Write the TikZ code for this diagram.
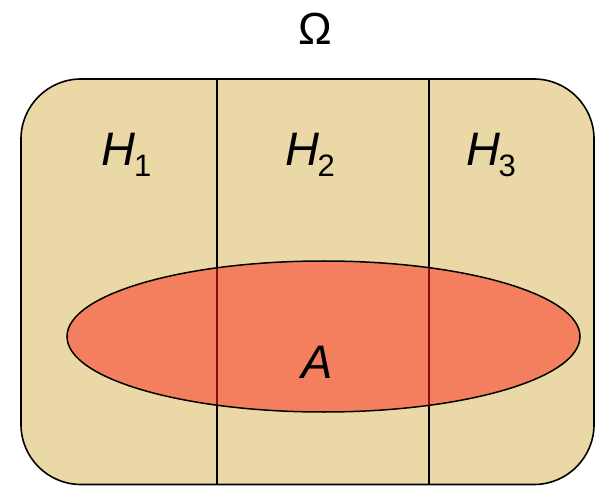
\documentclass[tikz,border=0pt]{standalone}
\usepackage{fontspec}
\setmainfont{Liberation Sans}
\usetikzlibrary{shapes.geometric}
\definecolor{beige}{RGB}{234,217,166}
\definecolor{setred}{RGB}{252,39,26}
\tikzset{
  lbl/.style={inner sep=0pt, anchor=base, font=\fontsize{47}{50}\selectfont\itshape},
  part/.style={line width=1.2pt, draw=black}
}
\newcommand{\hsub}[1]{H\kern-1.5pt\raisebox{-11pt}{\fontsize{31}{34}\selectfont\upshape #1}}
\begin{document}
\begin{tikzpicture}[x=1pt,y=-1pt]
\useasboundingbox (0,0) rectangle (597,486);
% sample space
\draw[fill=beige, line width=1.6pt, rounded corners=60pt] (21,79) rectangle (594,484.5);
% partition lines
\coordinate (t1) at (217,79);
\coordinate (b1) at (217,484.5);
\coordinate (t2) at (429,79);
\coordinate (b2) at (429,484.5);
\draw[part] (t1) -- (b1);
\draw[part] (t2) -- (b2);
% event A
\node[ellipse, minimum width=513pt, minimum height=151pt, inner sep=0pt, fill=setred, fill opacity=0.5, draw=black, draw opacity=1, line width=1.5pt] (ell) at (323.5,336.5) {};
\node[lbl] (A) at (317,378) {A};
\node[lbl] (H1) at (126.5,166) {\hsub{1}};
\node[lbl] (H2) at (310,166) {\hsub{2}};
\node[lbl] (H3) at (491,166) {\hsub{3}};
\node[inner sep=0pt, anchor=base, font=\fontsize{45}{48}\selectfont] (Om) at (315,45) {Ω};
\end{tikzpicture}
\end{document}
